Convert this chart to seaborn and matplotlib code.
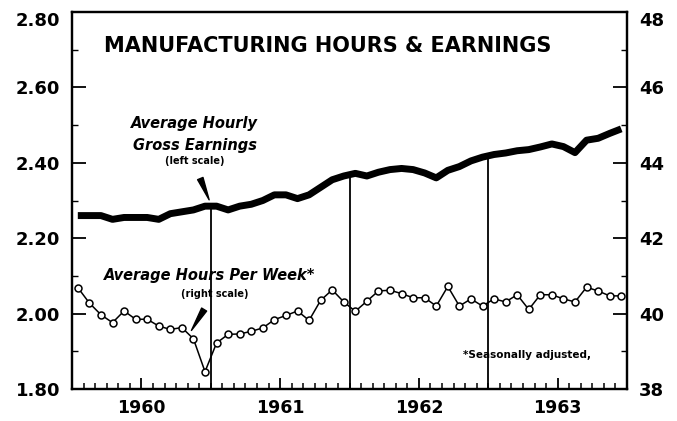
import matplotlib
matplotlib.use('Agg')
import matplotlib.pyplot as plt
import numpy as np
import pandas as pd
import seaborn as sns

# monthly data, Jan 1960 .. Dec 1963
years = ['1960', '1961', '1962', '1963']
earnings = [2.26, 2.26, 2.26, 2.25, 2.255, 2.255, 2.255, 2.25, 2.265, 2.27, 2.275, 2.285,
            2.285, 2.275, 2.285, 2.29, 2.30, 2.315, 2.315, 2.305, 2.315, 2.335, 2.355, 2.365,
            2.372, 2.365, 2.375, 2.382, 2.385, 2.382, 2.373, 2.36, 2.38, 2.39, 2.405, 2.415,
            2.422, 2.426, 2.432, 2.435, 2.442, 2.45, 2.443, 2.427, 2.46, 2.465, 2.478, 2.49]
hours = [40.69, 40.28, 39.97, 39.76, 40.07, 39.85, 39.85, 39.67, 39.58, 39.63, 39.33, 38.46,
         39.22, 39.45, 39.46, 39.53, 39.62, 39.84, 39.95, 40.07, 39.82, 40.35, 40.63, 40.31,
         40.06, 40.33, 40.60, 40.62, 40.53, 40.42, 40.42, 40.20, 40.72, 40.20, 40.39, 40.20,
         40.39, 40.31, 40.50, 40.11, 40.50, 40.50, 40.39, 40.31, 40.70, 40.60, 40.47, 40.47]
left_ticks = [1.80, 2.00, 2.20, 2.40, 2.60, 2.80]
right_ticks = [38, 40, 42, 44, 46, 48]

df = pd.DataFrame({'month': np.arange(len(earnings)) + 0.5,
                   'earnings': earnings, 'hours': hours})

sns.set_theme(style='ticks')
plt.rcParams['font.family'] = ['DejaVu Sans']
plt.rcParams['font.weight'] = 'bold'
for k in ['text.color', 'axes.labelcolor', 'xtick.color', 'ytick.color', 'axes.edgecolor']:
    plt.rcParams[k] = 'black'

fig = plt.figure(figsize=(6.77, 4.21), dpi=100)
ax = fig.add_axes([0.1064, 0.076, 0.8198, 0.8955])
ax2 = ax.twinx()

sns.lineplot(data=df, x='month', y='earnings', ax=ax, color='black',
             linewidth=5, solid_capstyle='butt', zorder=3)
sns.lineplot(data=df, x='month', y='hours', ax=ax2, color='black', linewidth=1.1,
             marker='o', markersize=5, markerfacecolor='white',
             markeredgecolor='black', markeredgewidth=1.1)

# year separators from the earnings line down to the axis
for b in [12, 24, 36]:
    top = (earnings[b - 1] + earnings[b]) / 2
    ax.vlines(b, 1.8, top, color='black', linewidth=1.3, zorder=2)

ax.set_xlim(0, 48)
ax.set_ylim(1.8, 2.8)
ax2.set_ylim(38, 48)

ax.set_xticks([6, 18, 30, 42])
ax.set_xticklabels(years)
ax.set_xticks(np.arange(1, 48), minor=True)
ax.tick_params(axis='x', which='major', direction='in', length=8, width=1.3,
               labelsize=12.5, pad=7.5)
ax.tick_params(axis='x', which='minor', direction='in', length=4, width=1.1)

ax.set_yticks(left_ticks)
ax.set_yticklabels([f'{v:.2f}' for v in left_ticks])
ax.set_yticks(np.arange(1.9, 2.8, 0.2), minor=True)
ax.tick_params(axis='y', which='major', direction='in', length=10, width=1.3,
               labelsize=13, pad=8.5)
ax.tick_params(axis='y', which='minor', direction='in', length=4, width=1)

ax2.set_yticks(right_ticks)
ax2.set_yticklabels([str(v) for v in right_ticks])
ax2.set_yticks(np.arange(39, 48, 2), minor=True)
ax2.tick_params(axis='y', which='major', direction='in', length=10, width=1.3,
                labelsize=13, pad=8.5)
ax2.tick_params(axis='y', which='minor', direction='in', length=4, width=1)

for a in (ax, ax2):
    for s in a.spines.values():
        s.set_visible(True)
        s.set_linewidth(1.6)
        s.set_color('black')
ax.set_xlabel('')
ax.set_ylabel('')
ax2.set_ylabel('')

# top labels sit a bit lower in the original
ax.yaxis.get_major_ticks()[-1].label1.set_va('top')
ax2.yaxis.get_major_ticks()[-1].label2.set_va('top')

ax.text(22.1, 2.71, 'MANUFACTURING HOURS & EARNINGS', ha='center', va='center',
        fontsize=15, fontweight='bold')

ax.text(10.6, 2.503, 'Average Hourly', ha='center', va='center', fontsize=10.5,
        fontweight='bold', style='italic')
ax.text(10.6, 2.445, 'Gross Earnings', ha='center', va='center', fontsize=10.5,
        fontweight='bold', style='italic')
ax.text(10.6, 2.405, '(left scale)', ha='center', va='center', fontsize=7)
ax.annotate('', xy=(11.95, 2.295), xytext=(11.0, 2.365),
            arrowprops=dict(arrowstyle='wedge,tail_width=0.35', fc='black', ec='black'))

ax.text(11.9, 2.102, 'Average Hours Per Week*', ha='center', va='center',
        fontsize=10.5, fontweight='bold', style='italic')
ax.text(12.3, 2.052, '(right scale)', ha='center', va='center', fontsize=7)
ax.annotate('', xy=(10.2, 1.949), xytext=(11.55, 2.017),
            arrowprops=dict(arrowstyle='wedge,tail_width=0.35', fc='black', ec='black'))

ax.text(39.35, 1.890, '*Seasonally adjusted,', ha='center', va='center',
        fontsize=7.5, fontweight='bold')

fig.savefig('out.png', dpi=100)
